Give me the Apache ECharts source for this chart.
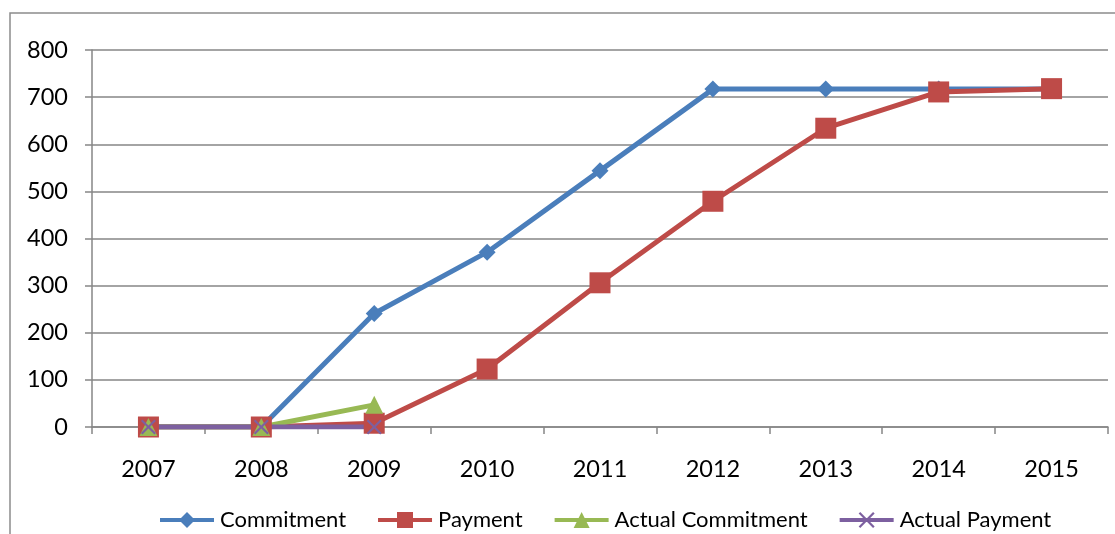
<!DOCTYPE html>
<html><head><meta charset="utf-8">
<script src="https://cdn.jsdelivr.net/npm/echarts@6/dist/echarts.min.js"></script>
<style>html,body{margin:0;padding:0;background:#fff}#c{width:1115px;height:534px}</style>
</head><body><div id="c"></div>
<script>
const categories = ['2007','2008','2009','2010','2011','2012','2013','2014','2015'];
const commitment = [0, 0, 241, 371, 544, 717, 717, 717, 717];
const payment = [0, 0, 8, 123, 306, 479, 634, 711, 718];
const actualCommitment = [0, 0, 47];
const actualPayment = [0, 0, 0];
const yTicks = { min: 0, max: 800, interval: 100 };

const FONT = 'Lato';
const crossPath = 'path://M0,1L1,0L5,4L9,0L10,1L6,5L10,9L9,10L5,6L1,10L0,9L4,5Z';

const chart = echarts.init(document.getElementById('c'));
function line(name, data, color, symbol, size) {
  return {
    name, type: 'line', data, symbol, symbolSize: size,
    lineStyle: { color, width: 5 },
    itemStyle: { color, borderWidth: 0 },
    emphasis: { disabled: true }, animation: false
  };
}
chart.setOption({
  animation: false,
  textStyle: { fontFamily: FONT },
  graphic: [{ type: 'rect', shape: { x: 10, y: 13, width: 1200, height: 600 },
    style: { fill: 'none', stroke: '#8c8c8c', lineWidth: 1.5 }, silent: true, z: -1 }],
  grid: { left: 92, right: 7, top: 50, bottom: 107, containLabel: false },
  xAxis: {
    type: 'category', data: categories, boundaryGap: true,
    axisLine: { lineStyle: { color: '#868686', width: 1.5 } },
    axisTick: { show: true, length: 7, lineStyle: { color: '#868686', width: 1.5 } },
    axisLabel: { color: '#000', fontSize: 23.5, fontFamily: FONT, margin: 30 }
  },
  yAxis: {
    type: 'value', min: yTicks.min, max: yTicks.max, interval: yTicks.interval,
    axisLine: { show: true, lineStyle: { color: '#868686', width: 1.5 } },
    axisTick: { show: true, length: 7, lineStyle: { color: '#868686', width: 1.5 } },
    axisLabel: { color: '#000', fontSize: 23.5, fontFamily: FONT, margin: 24 },
    splitLine: { lineStyle: { color: '#868686', width: 1.5 } }
  },
  legend: {
    bottom: -2, left: 153, itemWidth: 54, itemHeight: 20, itemGap: 30,
    lineStyle: { width: 4 },
    textStyle: { color: '#000', fontSize: 22, fontFamily: FONT, padding: [0, 0, 0, 1] },
    data: ['Commitment', 'Payment', 'Actual Commitment', 'Actual Payment']
  },
  series: [
    line('Commitment', commitment, '#4A7EBB', 'diamond', 17),
    line('Payment', payment, '#BE4B48', 'rect', 21),
    line('Actual Commitment', actualCommitment, '#98B954', 'triangle', 18),
    line('Actual Payment', actualPayment, '#7D60A0', crossPath, 15)
  ]
});
</script></body></html>
